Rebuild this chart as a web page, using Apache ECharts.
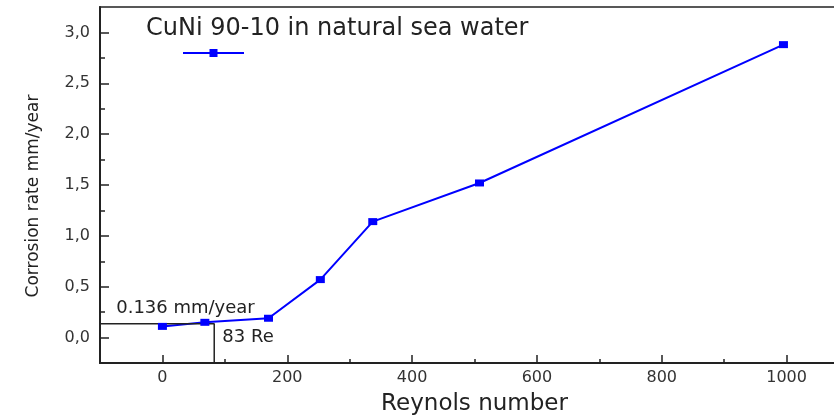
<!DOCTYPE html>
<html>
<head>
<meta charset="utf-8">
<script src="https://cdn.jsdelivr.net/npm/echarts@6/dist/echarts.min.js"></script>
<style>
  html, body { margin: 0; padding: 0; background: #fff; }
  #chart { width: 834px; height: 417px; }
</style>
</head>
<body>
<div id="chart"></div>
<script>
// CuNi 90-10 corrosion rate vs Reynolds number
const seriesName = 'CuNi 90-10 in natural sea water';
const reynolds = [0, 68, 170, 253, 337, 508, 995];
const corrosion = [0.11, 0.15, 0.19, 0.57, 1.14, 1.52, 2.88];

const xMajorTicks = [0, 200, 400, 600, 800, 1000];
const xMinorTicks = [100, 300, 500, 700, 900];
const yMajorTicks = [0, 0.5, 1.0, 1.5, 2.0, 2.5, 3.0];
const yMinorTicks = [0.25, 0.75, 1.25, 1.75, 2.25, 2.75];

const criticalRe = 83;
const criticalRate = 0.136;
const rateLabel = '0.136 mm/year';
const reLabel = '83 Re';

const xMin = -100, xMax = 1100;
const yMin = -0.25, yMax = 3.25;

const font = 'DejaVu Sans';
const ink = '#222';

const chart = echarts.init(document.getElementById('chart'));

const hiddenAxisParts = {
    axisLine: { show: false, onZero: false },
    axisLabel: { show: false },
    splitLine: { show: false },
};

chart.setOption({
    animation: false,
    title: {
        text: seriesName,
        left: 146,
        top: 17,
        padding: 0,
        textStyle: { fontFamily: font, fontSize: 24, fontWeight: 'normal', color: '#222' },
    },
    legend: {
        data: [seriesName],
        left: 182,
        top: 48,
        padding: 0,
        itemWidth: 61,
        itemHeight: 10,
        formatter: () => '',
    },
    grid: {
        left: 100,
        right: -15,
        top: 7,
        bottom: 54,
        outerBoundsMode: 'none',
        show: true,
        borderColor: ink,
        borderWidth: 1.5,
    },
    xAxis: [
        {
            type: 'value',
            min: xMin,
            max: xMax,
            position: 'bottom',
            name: 'Reynols number',
            nameLocation: 'middle',
            nameGap: 30,
            nameTextStyle: { fontFamily: font, fontSize: 23, color: ink },
            axisLine: { onZero: false, lineStyle: { color: ink, width: 2 } },
            axisTick: { inside: true, length: 8, customValues: xMajorTicks, lineStyle: { color: ink, width: 1.5 } },
            axisLabel: {
                customValues: xMajorTicks,
                margin: 7,
                fontFamily: font,
                fontSize: 16,
                color: '#333',
                formatter: (v) => String(v),
            },
            splitLine: { show: false },
        },
        {
            type: 'value',
            min: xMin,
            max: xMax,
            position: 'bottom',
            ...hiddenAxisParts,
            axisTick: { inside: true, length: 4, customValues: xMinorTicks, lineStyle: { color: ink, width: 1.5 } },
        },
    ],
    yAxis: [
        {
            type: 'value',
            min: yMin,
            max: yMax,
            position: 'left',
            name: 'Corrosion rate mm/year',
            nameLocation: 'middle',
            nameGap: 58,
            nameTextStyle: { fontFamily: font, fontSize: 17, color: ink, padding: [0, 22, 0, 0] },
            axisLine: { onZero: false, lineStyle: { color: ink, width: 2 } },
            axisTick: { inside: true, length: 9, customValues: yMajorTicks, lineStyle: { color: ink, width: 1.5 } },
            axisLabel: {
                customValues: yMajorTicks,
                margin: 10,
                fontFamily: font,
                fontSize: 16,
                color: '#333',
                formatter: (v) => v.toFixed(1).replace('.', ','),
            },
            splitLine: { show: false },
        },
        {
            type: 'value',
            min: yMin,
            max: yMax,
            position: 'left',
            ...hiddenAxisParts,
            axisTick: { inside: true, length: 5, customValues: yMinorTicks, lineStyle: { color: ink, width: 1.5 } },
        },
    ],
    series: [
        {
            name: seriesName,
            type: 'line',
            data: reynolds.map((r, i) => [r, corrosion[i]]),
            symbol: 'rect',
            symbolSize: [9, 7],
            itemStyle: { color: '#0000ff' },
            lineStyle: { color: '#0000ff', width: 2 },
        },
        {
            name: 'critical',
            type: 'line',
            data: [[xMin, criticalRate], [criticalRe, criticalRate], [criticalRe, yMin]],
            symbol: 'none',
            lineStyle: { color: ink, width: 1.5 },
            silent: true,
            markPoint: {
                symbolSize: 0,
                label: {
                    show: true,
                    position: [0, 0],
                    align: 'left',
                    verticalAlign: 'middle',
                    fontFamily: font,
                    fontSize: 18,
                    color: ink,
                    formatter: (p) => p.name,
                },
                data: [
                    { name: rateLabel, coord: [-74, 0.29] },
                    { name: reLabel, coord: [96, 0.0] },
                ],
            },
        },
    ],
});
</script>
</body>
</html>
